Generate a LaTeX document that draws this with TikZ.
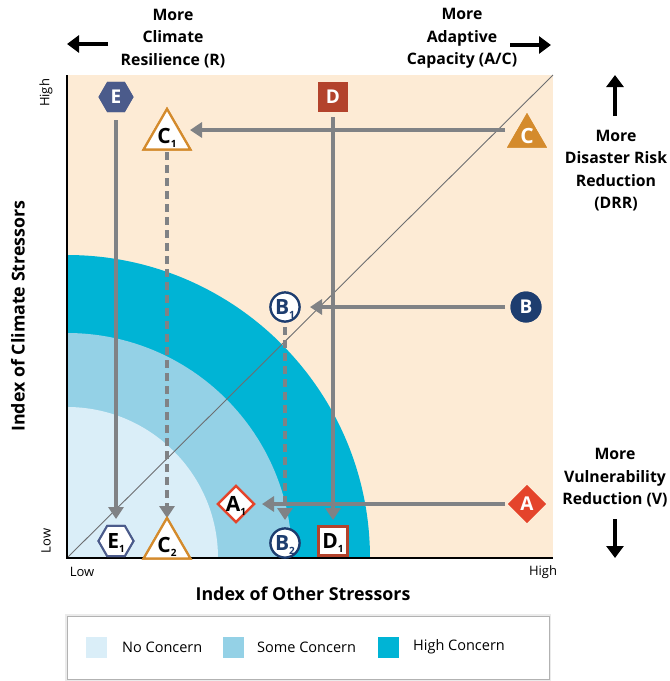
\documentclass[tikz,border=0pt]{standalone}
\usepackage{fontspec}
\setmainfont{Open Sans}
\usetikzlibrary{arrows.meta,shapes.geometric,calc}
\definecolor{peach}{HTML}{FDEBD5}
\definecolor{lightc}{HTML}{DAEEF8}
\definecolor{midc}{HTML}{94D1E6}
\definecolor{highc}{HTML}{00B4D5}
\definecolor{arrgray}{HTML}{808285}
\definecolor{diaggray}{HTML}{6D6E71}
\definecolor{colE}{HTML}{4B5B8B}
\definecolor{colD}{HTML}{B3432C}
\definecolor{colC}{HTML}{D48B2D}
\definecolor{colB}{HTML}{1D3D6F}
\definecolor{colA}{HTML}{E4442B}
\newcommand{\sub}[1]{\raisebox{-3.5pt}[0pt][0pt]{\fontsize{10}{10}\selectfont #1}}
\begin{document}
\begin{tikzpicture}[x=1pt,y=-1pt,
  lbl/.style={font=\bfseries\fontsize{15.8}{22.5}\selectfont, align=center, text=black, inner sep=0pt},
  tick/.style={font=\fontsize{13}{13}\selectfont, inner sep=0pt},
  axlbl/.style={font=\bfseries\fontsize{17.8}{17.8}\selectfont, inner sep=0pt},
  leg/.style={font=\fontsize{14.5}{14.5}\selectfont, inner sep=0pt, anchor=west},
  legsq/.style={minimum size=21pt, inner sep=0pt},
  mk/.style={inner sep=0pt, font=\bfseries\fontsize{19}{19}\selectfont},
  mko/.style={inner sep=0pt, font=\bfseries\fontsize{21}{21}\selectfont},
  hexf/.style={mk, regular polygon, regular polygon sides=6, minimum size=35pt, fill=colE, text=white},
  hexo/.style={mko, regular polygon, regular polygon sides=6, minimum size=35pt, fill=white, draw=colE, line width=2pt, text=black},
  trif/.style={mko, regular polygon, regular polygon sides=3, minimum size=46pt, fill=colC, text=white},
  trio/.style={mko, regular polygon, regular polygon sides=3, minimum size=46pt, fill=white, draw=colC, line width=2.2pt, text=black},
  sqf/.style={mk, rectangle, minimum size=30pt, fill=colD, text=white},
  sqo/.style={mko, rectangle, minimum size=29pt, fill=white, draw=colD, line width=2.2pt, text=black},
  cirf/.style={mk, circle, minimum size=31pt, fill=colB, text=white},
  ciro/.style={mko, circle, minimum size=29pt, fill=white, draw=colB, line width=2.2pt, text=colB},
  diaf/.style={mk, diamond, minimum size=38pt, fill=colA, text=white},
  diao/.style={mko, diamond, minimum size=37pt, fill=white, draw=colA, line width=2.2pt, text=black},
  gar/.style={draw=arrgray, line width=4.2pt, -{Triangle[width=15pt,length=12pt]}},
  gdash/.style={gar, dash pattern=on 8pt off 5pt},
  bar/.style={draw=black, line width=4pt, -{Triangle[width=17pt,length=12pt]}}
]
\useasboundingbox (0,0) rectangle (670,681);
\fill[white] (0,0) rectangle (670,681);
% plot background and concern zones
\fill[peach] (67,75) rectangle (553,558);
\begin{scope}
  \clip (67,75) rectangle (553,558);
  \fill[highc] (67,558) circle[radius=303pt];
  \fill[midc] (67,558) circle[radius=225pt];
  \fill[lightc] (67,558) circle[radius=151pt];
\end{scope}
\draw[diaggray, line width=0.9pt] (67,558) -- (553,75);
\draw[black, line width=2.5pt] (67,75) -- (67,558) -- (553,558);

% markers
\node[hexf] (E) at (116,97) {E};
\node[sqf] (D) at (333,97) {D};
\node[trio] (C1) at (167,136) {C\sub{1}};
\node[trif] (C) at (527,136) {C};
\node[ciro] (B1) at (285,307) {B\sub{1}};
\node[cirf] (B) at (526,307) {B};
\node[diao] (A1) at (236,504) {A\sub{1}};
\node[diaf] (A) at (527,504) {A};
\node[hexo] (E1) at (116,541) {E\sub{1}};
\node[trio] (C2) at (167,545) {C\sub{2}};
\node[ciro] (B2) at (285,543) {B\sub{2}};
\node[sqo] (D1) at (333,541) {D\sub{1}};

% connectors
\draw[gar, shorten <=23pt, shorten >=22pt] (E.center) -- (E1.center);
\draw[gdash, shorten <=16pt, shorten >=27pt] (C1.center) -- (C2.center);
\draw[gar, shorten <=20pt, shorten >=21pt] (D.center) -- (D1.center);
\draw[gar, shorten <=22pt, shorten >=23pt] ([yshift=6pt]C.center) -- ([yshift=6pt]C1.center);
\draw[gar, shorten <=21pt, shorten >=25pt] (B.center) -- (B1.center);
\draw[gdash, shorten <=20pt, shorten >=23pt] (B1.center) -- (B2.center);
\draw[gar, shorten <=22pt, shorten >=26pt] (A.center) -- (A1.center);

% redraw markers on top
\node[hexf] at (E) {E};
\node[sqf] at (D) {D};
\node[trio] at (C1) {C\sub{1}};
\node[trif] at (C) {C};
\node[ciro] at (B1) {B\sub{1}};
\node[cirf] at (B) {B};
\node[diao] at (A1) {A\sub{1}};
\node[diaf] at (A) {A};
\node[hexo] at (E1) {E\sub{1}};
\node[trio] at (C2) {C\sub{2}};
\node[ciro] at (B2) {B\sub{2}};
\node[sqo] at (D1) {D\sub{1}};

% outer labels
\node[lbl] (resil) at (173,38.5) {More\\Climate\\Resilience (R)};
\node[lbl] (adapt) at (462,38.5) {More\\Adaptive\\Capacity (A/C)};
\node[lbl] (drr) at (616,170.5) {More\\Disaster Risk\\Reduction\\(DRR)};
\node[lbl] (vuln) at (615,478) {More\\Vulnerability\\Reduction (V)};
\coordinate (la1) at (108,44); \coordinate (la2) at (67,44);
\coordinate (ra1) at (510,45); \coordinate (ra2) at (551,45);
\coordinate (ua1) at (615,116); \coordinate (ua2) at (615,75);
\coordinate (da1) at (615,519); \coordinate (da2) at (615,558);
\draw[bar] (la1) -- (la2);
\draw[bar] (ra1) -- (ra2);
\draw[bar] (ua1) -- (ua2);
\draw[bar] (da1) -- (da2);

% axis labels
\node[tick, rotate=90] (yhigh) at (46,93) {High};
\node[tick, rotate=90] (ylow) at (46,541) {Low};
\node[tick] (xlow) at (82,572) {Low};
\node[tick] (xhigh) at (543,572) {High};
\node[axlbl, rotate=90] (ylab) at (18,316) {Index of Climate Stressors};
\node[axlbl] (xlab) at (303,594) {Index of Other Stressors};

% legend
\fill[black!8] (65,614) rectangle (551,681);
\draw[black!30, fill=white, line width=0.8pt] (67,616) rectangle (549,679);
\node[legsq, fill=lightc] (l1) at (96,647.5) {};
\node[leg] (t1) at (122,647) {No Concern};
\node[legsq, fill=midc] (l2) at (233.5,647.5) {};
\node[leg] (t2) at (257,647) {Some Concern};
\node[legsq, fill=highc] (l3) at (388,647.5) {};
\node[leg] (t3) at (413,647) {High Concern};
\end{tikzpicture}
\end{document}
